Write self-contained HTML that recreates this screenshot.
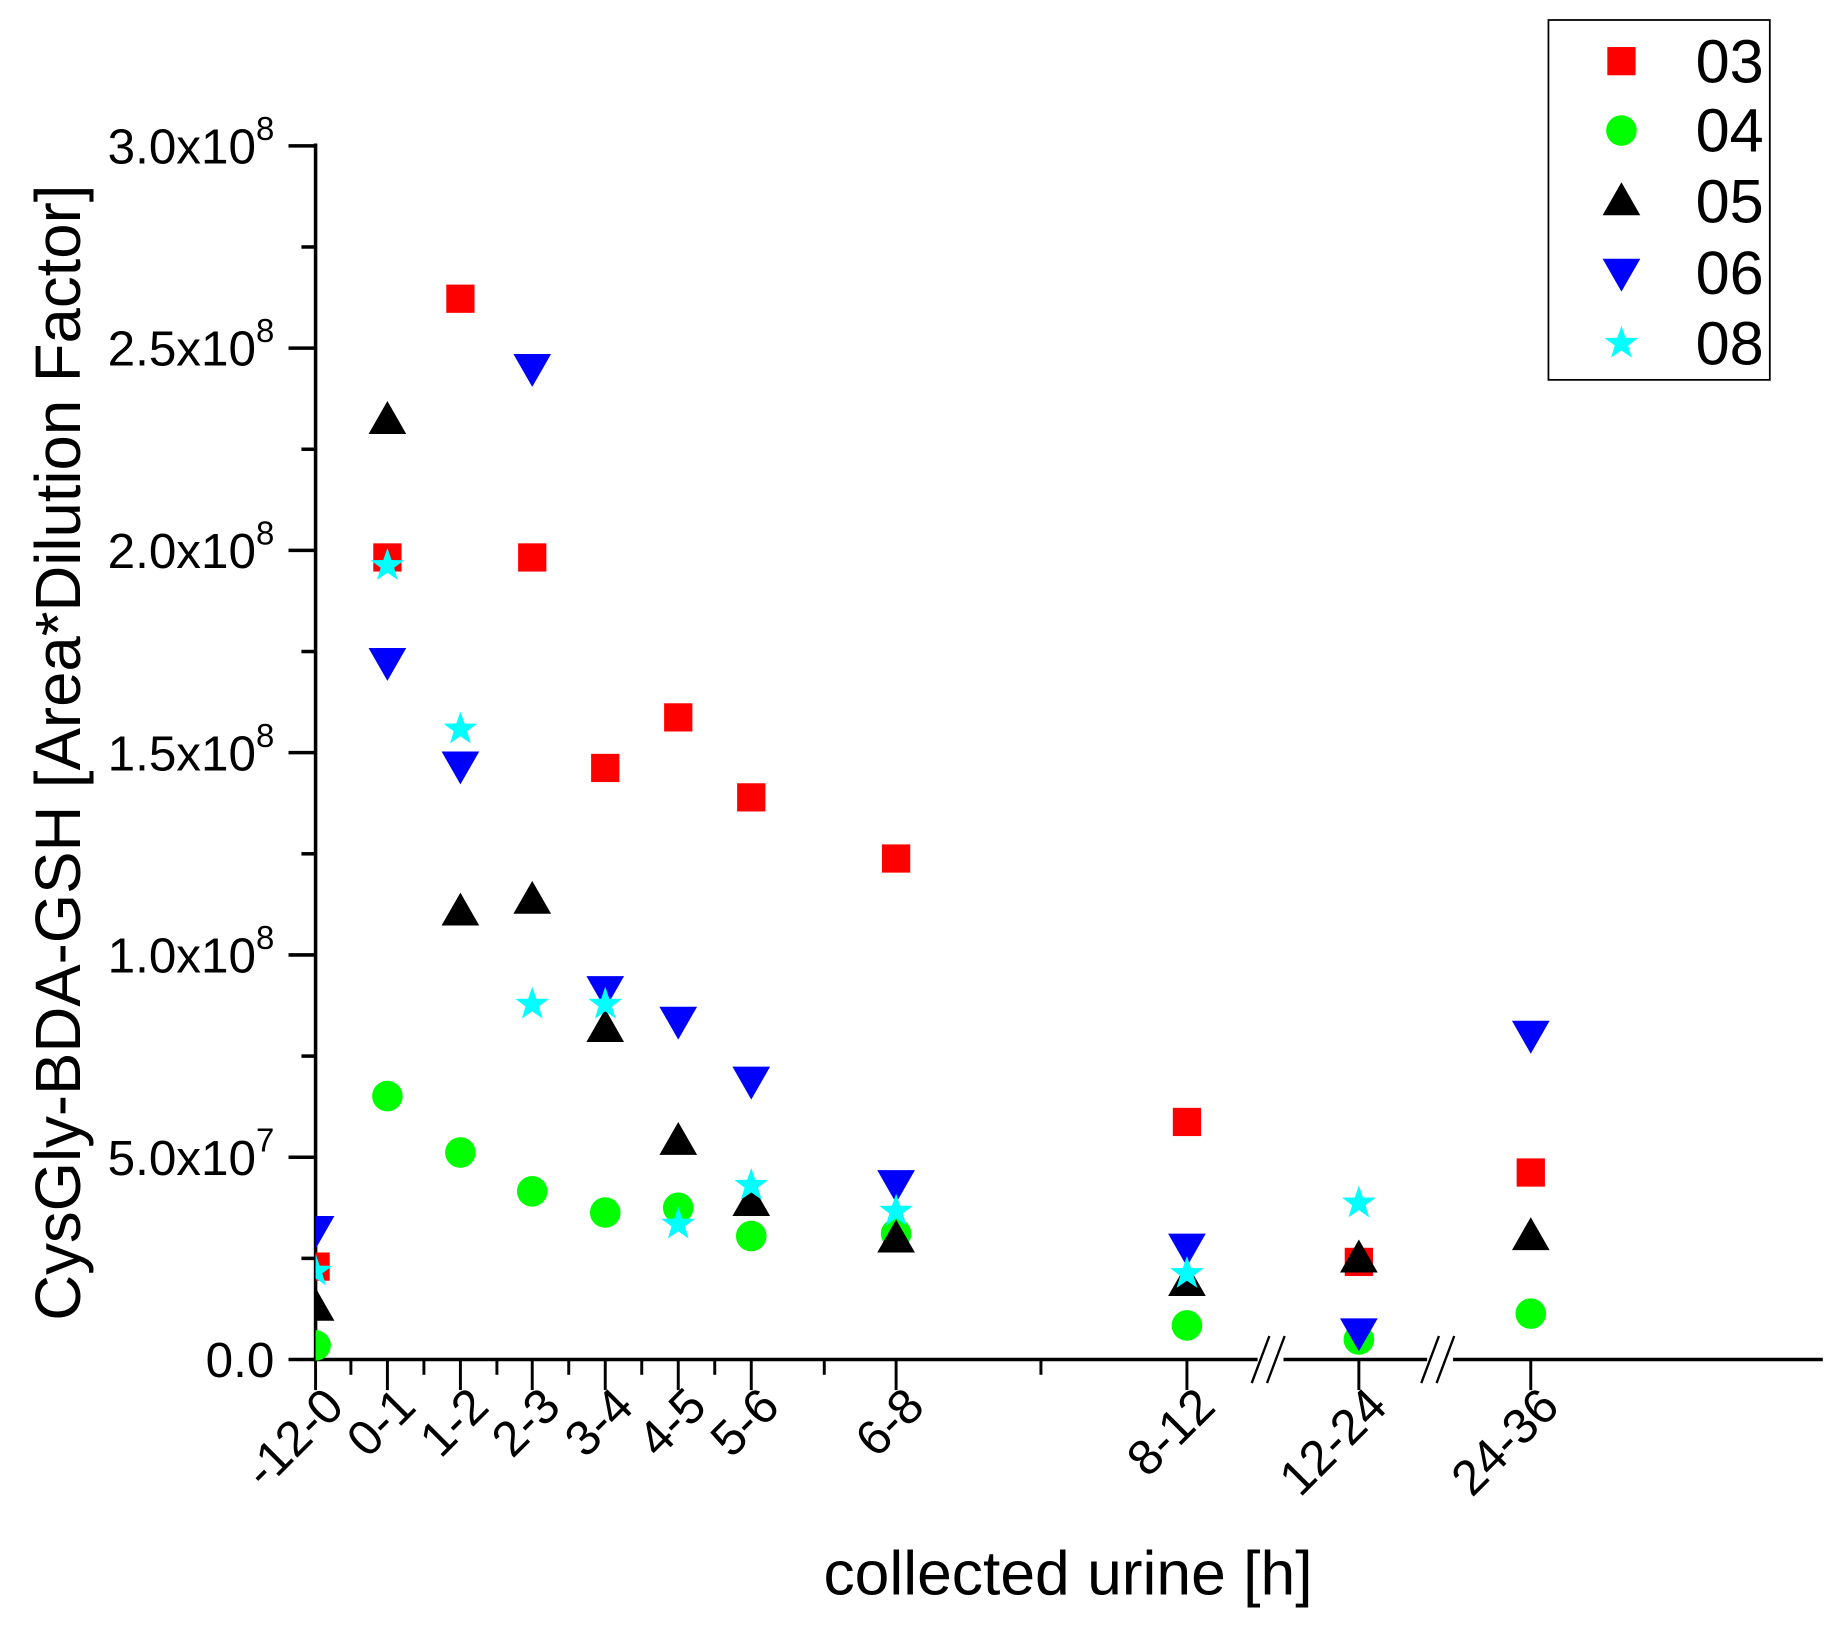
<!DOCTYPE html>
<html><head><meta charset="utf-8"><style>
html,body{margin:0;padding:0;background:#fff;}
svg{display:block;}
text{font-family:"Liberation Sans",Arial,sans-serif;fill:#000;}
</style></head><body>
<svg width="1844" height="1630" viewBox="0 0 1566 1386" preserveAspectRatio="none" xmlns="http://www.w3.org/2000/svg">
<defs>
<clipPath id="c"><rect x="268" y="0" width="1300" height="1380"/></clipPath>
<rect id="sq" x="-12" y="-12" width="24" height="24" fill="#f00"/>
<circle id="ci" r="13" fill="#0f0"/>
<path id="tu" d="M0,-16 L16,12 L-16,12 Z" fill="#000"/>
<path id="td" d="M0,16 L16,-12 L-16,-12 Z" fill="#00f"/>
<path id="st" d="M0,-15 L3.5,-4.8 L14.3,-4.6 L5.7,1.8 L8.8,12.1 L0,6 L-8.8,12.1 L-5.7,1.8 L-14.3,-4.6 L-3.5,-4.8 Z" fill="#0ff"/>
</defs>
<g stroke="#000" stroke-width="3" fill="none">
<line x1="268" y1="122" x2="268" y2="1157"/>
<line x1="266" y1="1156" x2="1548" y2="1156"/>
<line x1="245" y1="124" x2="268" y2="124"/><line x1="245" y1="296" x2="268" y2="296"/>
<line x1="245" y1="468" x2="268" y2="468"/><line x1="245" y1="640" x2="268" y2="640"/>
<line x1="245" y1="812" x2="268" y2="812"/><line x1="245" y1="984" x2="268" y2="984"/>
<line x1="245" y1="1156" x2="268" y2="1156"/>
<line x1="256" y1="210" x2="268" y2="210"/><line x1="256" y1="382" x2="268" y2="382"/>
<line x1="256" y1="554" x2="268" y2="554"/><line x1="256" y1="726" x2="268" y2="726"/>
<line x1="256" y1="898" x2="268" y2="898"/><line x1="256" y1="1070" x2="268" y2="1070"/>
<g stroke-width="2.5">
<line x1="268" y1="1156" x2="268" y2="1182"/><line x1="329" y1="1156" x2="329" y2="1182"/>
<line x1="391" y1="1156" x2="391" y2="1182"/><line x1="452" y1="1156" x2="452" y2="1182"/>
<line x1="514" y1="1156" x2="514" y2="1182"/><line x1="576" y1="1156" x2="576" y2="1182"/>
<line x1="638" y1="1156" x2="638" y2="1182"/><line x1="761" y1="1156" x2="761" y2="1182"/>
<line x1="1008" y1="1156" x2="1008" y2="1182"/><line x1="1154" y1="1156" x2="1154" y2="1182"/>
<line x1="1300" y1="1156" x2="1300" y2="1182"/>
<line x1="298" y1="1156" x2="298" y2="1169"/><line x1="360" y1="1156" x2="360" y2="1169"/>
<line x1="422" y1="1156" x2="422" y2="1169"/><line x1="483" y1="1156" x2="483" y2="1169"/>
<line x1="545" y1="1156" x2="545" y2="1169"/><line x1="607" y1="1156" x2="607" y2="1169"/>
<line x1="700" y1="1156" x2="700" y2="1169"/><line x1="884" y1="1156" x2="884" y2="1169"/>
</g>
</g>
<rect x="1068" y="1150" width="22" height="12" fill="#fff"/>
<rect x="1212" y="1150" width="22" height="12" fill="#fff"/>
<g stroke="#000" stroke-width="2">
<line x1="1063" y1="1176" x2="1078" y2="1136"/><line x1="1076" y1="1176" x2="1091" y2="1136"/>
<line x1="1207" y1="1176" x2="1222" y2="1136"/><line x1="1220" y1="1176" x2="1235" y2="1136"/>
</g>
<g font-size="42" text-anchor="end">
<text x="233" y="139">3.0x10<tspan font-size="28" dy="-20">8</tspan></text>
<text x="233" y="311">2.5x10<tspan font-size="28" dy="-20">8</tspan></text>
<text x="233" y="483">2.0x10<tspan font-size="28" dy="-20">8</tspan></text>
<text x="233" y="655">1.5x10<tspan font-size="28" dy="-20">8</tspan></text>
<text x="233" y="827">1.0x10<tspan font-size="28" dy="-20">8</tspan></text>
<text x="233" y="999">5.0x10<tspan font-size="28" dy="-20">7</tspan></text>
<text x="233" y="1171">0.0</text>
</g>
<g font-size="42" text-anchor="end">
<text transform="translate(294,1198) rotate(-45)">-12-0</text>
<text transform="translate(355,1198) rotate(-45)">0-1</text>
<text transform="translate(417,1198) rotate(-45)">1-2</text>
<text transform="translate(478,1198) rotate(-45)">2-3</text>
<text transform="translate(540,1198) rotate(-45)">3-4</text>
<text transform="translate(602,1198) rotate(-45)">4-5</text>
<text transform="translate(664,1198) rotate(-45)">5-6</text>
<text transform="translate(787,1198) rotate(-45)">6-8</text>
<text transform="translate(1034,1198) rotate(-45)">8-12</text>
<text transform="translate(1180,1198) rotate(-45)">12-24</text>
<text transform="translate(1326,1198) rotate(-45)">24-36</text>
</g>
<text x="907" y="1356" font-size="53" text-anchor="middle">collected urine [h]</text>
<text transform="translate(68,640) rotate(-90)" font-size="54" text-anchor="middle">CysGly-BDA-GSH [Area*Dilution Factor]</text>
<g clip-path="url(#c)">
<use href="#sq" x="268" y="1077"/><use href="#sq" x="329" y="474"/><use href="#sq" x="391" y="254"/><use href="#sq" x="452" y="474"/><use href="#sq" x="514" y="653"/><use href="#sq" x="576" y="610"/><use href="#sq" x="638" y="678"/><use href="#sq" x="761" y="730"/><use href="#sq" x="1008" y="954"/><use href="#sq" x="1154" y="1073"/><use href="#sq" x="1300" y="997"/>
<use href="#ci" x="268" y="1144"/><use href="#ci" x="329" y="932"/><use href="#ci" x="391" y="980"/><use href="#ci" x="452" y="1013"/><use href="#ci" x="514" y="1031"/><use href="#ci" x="576" y="1027"/><use href="#ci" x="638" y="1051"/><use href="#ci" x="761" y="1049"/><use href="#ci" x="1008" y="1127"/><use href="#ci" x="1154" y="1139"/><use href="#ci" x="1300" y="1117"/>
<use href="#tu" x="268" y="1111"/><use href="#tu" x="329" y="357"/><use href="#tu" x="391" y="775"/><use href="#tu" x="452" y="765"/><use href="#tu" x="514" y="874"/><use href="#tu" x="576" y="970"/><use href="#tu" x="638" y="1022"/><use href="#tu" x="761" y="1053"/><use href="#tu" x="1008" y="1090"/><use href="#tu" x="1154" y="1070"/><use href="#tu" x="1300" y="1051"/>
<use href="#td" x="268" y="1046"/><use href="#td" x="329" y="563"/><use href="#td" x="391" y="651"/><use href="#td" x="452" y="313"/><use href="#td" x="514" y="842"/><use href="#td" x="576" y="868"/><use href="#td" x="638" y="919"/><use href="#td" x="761" y="1007"/><use href="#td" x="1008" y="1061"/><use href="#td" x="1154" y="1133"/><use href="#td" x="1300" y="880"/>
<use href="#st" x="268" y="1081"/><use href="#st" x="329" y="481"/><use href="#st" x="391" y="620"/><use href="#st" x="452" y="854"/><use href="#st" x="514" y="854"/><use href="#st" x="576" y="1041"/><use href="#st" x="638" y="1008"/><use href="#st" x="761" y="1030"/><use href="#st" x="1008" y="1083"/><use href="#st" x="1154" y="1023"/>
</g>
<rect x="1315" y="17" width="188" height="306" fill="#fff" stroke="#000" stroke-width="1.5"/>
<use href="#sq" x="1377" y="52"/><use href="#ci" x="1377" y="111"/><use href="#tu" x="1377" y="171"/><use href="#td" x="1377" y="232"/><use href="#st" x="1377" y="292"/>
<g font-size="52">
<text x="1440" y="70">03</text><text x="1440" y="129">04</text><text x="1440" y="189">05</text><text x="1440" y="250">06</text><text x="1440" y="310">08</text>
</g>
</svg>
</body></html>
